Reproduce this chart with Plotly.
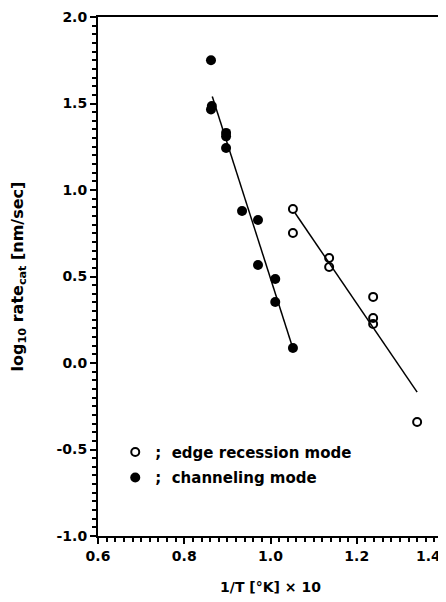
import plotly.graph_objects as go

# Channeling mode (filled circles)
chan_x = [0.862, 0.862, 0.864, 0.897, 0.897, 0.897, 0.934, 0.971, 0.971, 1.011, 1.011, 1.052]
chan_y = [1.75, 1.465, 1.485, 1.33, 1.31, 1.243, 0.879, 0.827, 0.566, 0.486, 0.353, 0.087]
# Edge recession mode (open circles)
edge_x = [1.052, 1.052, 1.136, 1.136, 1.238, 1.238, 1.238, 1.34]
edge_y = [0.89, 0.751, 0.607, 0.555, 0.382, 0.26, 0.225, -0.341]
# Fitted lines (endpoints)
chan_fit_x = [0.865, 1.05]
chan_fit_y = [1.54, 0.10]
edge_fit_x = [1.057, 1.34]
edge_fit_y = [0.867, -0.168]

xticks = [0.6, 0.8, 1.0, 1.2, 1.4]
xticklabels = ["0.6", "0.8", "1.0", "1.2", "1.4&nbsp;&nbsp;&nbsp;&nbsp;&nbsp;&nbsp;"]
yticks = [-1.0, -0.5, 0.0, 0.5, 1.0, 1.5, 2.0]
yticklabels = ["-1.0", "-0.5", "0.0", "0.5", "1.0", "1.5", "2.0"]

font = dict(family="DejaVu Sans, Verdana, sans-serif", color="black")

fig = go.Figure()
fig.add_trace(go.Scatter(x=chan_fit_x, y=chan_fit_y, mode="lines",
                         line=dict(color="black", width=1.5), showlegend=False, hoverinfo="skip"))
fig.add_trace(go.Scatter(x=edge_fit_x, y=edge_fit_y, mode="lines",
                         line=dict(color="black", width=1.5), showlegend=False, hoverinfo="skip"))
fig.add_trace(go.Scatter(x=edge_x, y=edge_y, mode="markers", name="<b>;  edge recession mode</b>",
                         legendgroup="edge",
                         marker=dict(symbol="circle-open", size=8, color="black", line=dict(width=2))))
fig.add_trace(go.Scatter(x=chan_x, y=chan_y, mode="markers", name="<b>;  channeling mode</b>",
                         legendgroup="chan",
                         marker=dict(symbol="circle", size=10, color="black")))

axis_common = dict(showline=True, linecolor="black", linewidth=2, mirror=True,
                   ticks="outside", tickcolor="black", tickwidth=1.5, ticklen=6,
                   showgrid=False, zeroline=False, automargin=False,
                   ticklabeloverflow="allow",
                   tickfont=dict(size=14, **font))

fig.update_xaxes(range=[0.6, 1.4], tickvals=xticks, ticktext=[f"<b>{t}</b>" for t in xticklabels],
                 minor=dict(dtick=0.02, ticks="outside", ticklen=4, tickcolor="black", tickwidth=1.5),
                 title=dict(text="<b>1/T [°K] × 10</b>", font=dict(size=14, **font), standoff=19),
                 **axis_common)
fig.update_yaxes(range=[-1.0, 2.0], tickvals=yticks, ticktext=[f"<b>{t}</b>" for t in yticklabels],
                 minor=dict(dtick=0.05, ticks="outside", ticklen=4, tickcolor="black", tickwidth=1.5),
                 title=dict(text="<b>log<sub>10</sub> rate<sub>cat</sub> [nm/sec]</b>",
                            font=dict(size=16, **font), standoff=30),
                 **axis_common)

# page adds an 8px body margin, so the figure is sized to fit the window
fig.update_layout(
    width=438, height=594,
    margin=dict(l=90, r=3, t=9, b=66),
    plot_bgcolor="white", paper_bgcolor="white",
    font=font,
    legend=dict(x=0.05, y=0.193, xanchor="left", yanchor="top", bgcolor="rgba(0,0,0,0)",
                font=dict(size=15, **font), tracegroupgap=3, itemwidth=30),
)

fig.write_html("out.html")
